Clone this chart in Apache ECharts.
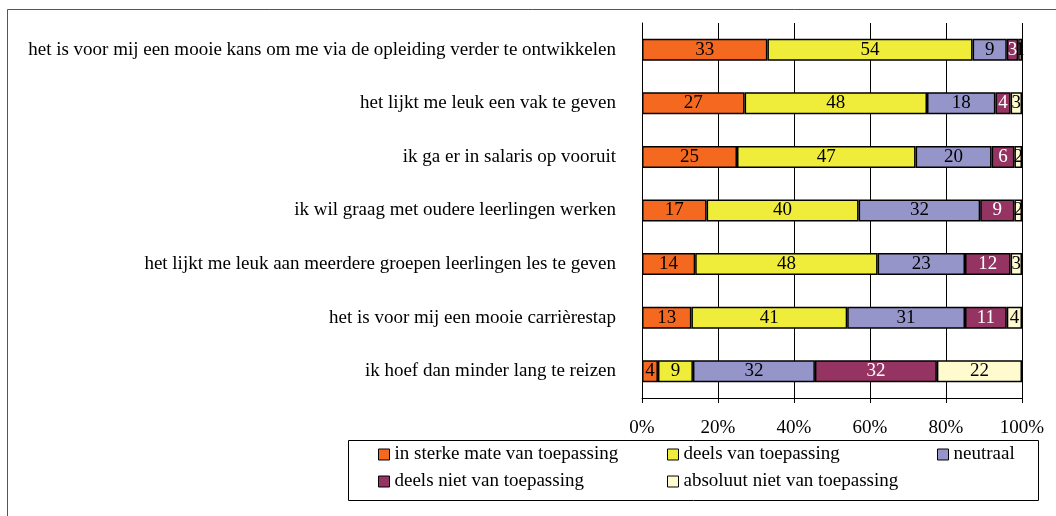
<!DOCTYPE html>
<html>
<head>
<meta charset="utf-8">
<script src="https://cdn.jsdelivr.net/npm/echarts@6/dist/echarts.min.js"></script>
<style>
html,body{margin:0;padding:0;background:#fff;}
#chart{width:1056px;height:516px;}
</style>
</head>
<body>
<div id="chart"></div>
<script>
// categories (top to bottom)
var categories = [
  'het is voor mij een mooie kans om me via de opleiding verder te ontwikkelen',
  'het lijkt me leuk een vak te geven',
  'ik ga er in salaris op vooruit',
  'ik wil graag met oudere leerlingen werken',
  'het lijkt me leuk aan meerdere groepen leerlingen les te geven',
  'het is voor mij een mooie carrièrestap',
  'ik hoef dan minder lang te reizen'
];
var seriesNames = [
  'in sterke mate van toepassing',
  'deels van toepassing',
  'neutraal',
  'deels niet van toepassing',
  'absoluut niet van toepassing'
];
// percentages per answer (labels show rounded values)
var sterk      = [33, 27, 25, 17, 14, 13, 4.2];
var deels      = [54, 48, 47, 40, 48, 41, 9.2];
var neutraal   = [9, 18, 20, 32, 23, 31, 32.1];
var deelsNiet  = [3, 4, 6, 9, 12, 11, 32.1];
var absoluut   = [1, 3, 2, 2, 3, 4, 22.4];
var xTicks = [0, 20, 40, 60, 80, 100];

var colors = ['#F4691F', '#F0EC3A', '#9595C9', '#953462', '#FFFBCF'];
var labelColors = ['#000', '#000', '#000', '#fff', '#000'];
var values = [sterk, deels, neutraal, deelsNiet, absoluut];
var font = 'Liberation Serif';

var chart = echarts.init(document.getElementById('chart'));

var series = seriesNames.map(function (name, i) {
  return {
    name: name,
    type: 'bar',
    stack: 'total',
    barWidth: 22,
    data: values[i],
    itemStyle: {color: colors[i], borderColor: '#000', borderWidth: 1.5},
    label: {
      show: true,
      position: 'inside',
      color: labelColors[i],
      fontFamily: font,
      fontSize: 19,
      formatter: function (p) { return Math.round(p.value); }
    },
    emphasis: {disabled: true}
  };
});

// legend positions: one legend per item
var legendPos = [
  [378, 445], [667, 445], [937, 445],
  [378, 472], [667, 472]
];
var legends = seriesNames.map(function (name, i) {
  return {
    data: [name],
    left: legendPos[i][0],
    top: legendPos[i][1],
    padding: 0,
    icon: 'rect',
    itemWidth: 11,
    itemHeight: 11,
    itemStyle: {borderColor: '#000', borderWidth: 1},
    textStyle: {fontFamily: font, fontSize: 19, color: '#000'}
  };
});

chart.setOption({
  animation: false,
  textStyle: {fontFamily: font},
  grid: {left: 642, right: 34, top: 23, bottom: 118, containLabel: false},
  xAxis: {
    type: 'value',
    min: xTicks[0],
    max: xTicks[xTicks.length - 1],
    interval: 20,
    axisLine: {show: true, lineStyle: {color: '#000', width: 1}},
    axisTick: {show: true, length: 5, lineStyle: {color: '#000'}},
    splitLine: {show: true, lineStyle: {color: '#000', width: 1}},
    axisLabel: {
      formatter: '{value}%',
      margin: 21,
      color: '#000',
      fontFamily: font,
      fontSize: 19
    }
  },
  yAxis: {
    type: 'category',
    inverse: true,
    data: categories,
    axisLine: {show: true, lineStyle: {color: '#000', width: 1}},
    axisTick: {show: false},
    axisLabel: {
      margin: 26,
      color: '#000',
      fontFamily: font,
      fontSize: 19
    }
  },
  legend: legends,
  graphic: [
    {
      type: 'rect',
      shape: {x: 7.5, y: 9.5, width: 1100, height: 600},
      style: {fill: 'none', stroke: '#555', lineWidth: 1},
      silent: true
    },
    {
      type: 'rect',
      shape: {x: 348.5, y: 440.5, width: 690, height: 60},
      style: {fill: 'none', stroke: '#000', lineWidth: 1},
      silent: true
    }
  ],
  series: series
});
</script>
</body>
</html>
